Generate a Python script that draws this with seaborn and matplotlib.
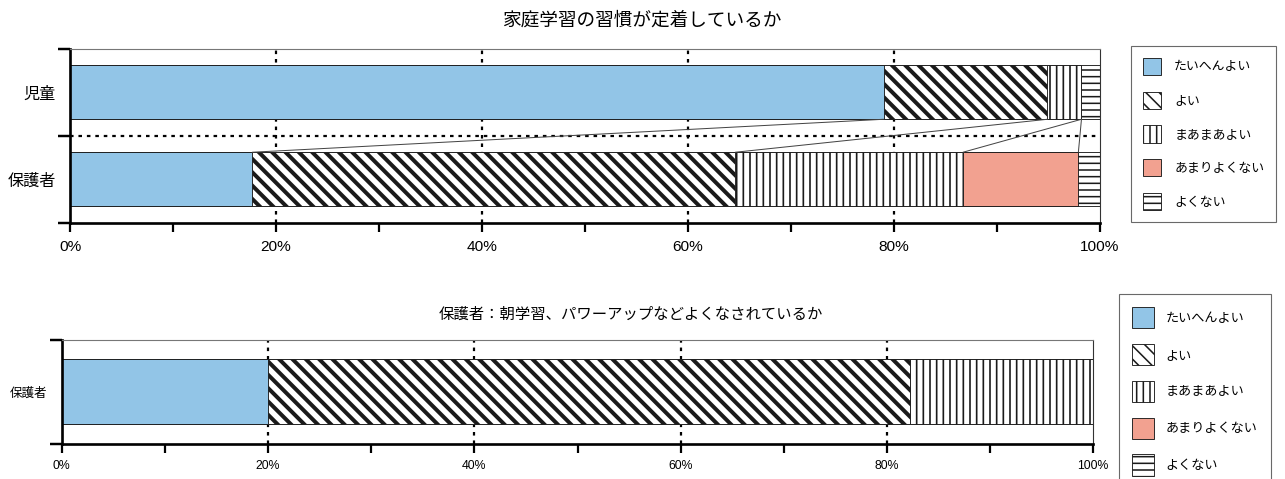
import numpy as np
import matplotlib
matplotlib.use("Agg")
import matplotlib.pyplot as plt
from matplotlib.patches import Patch
from matplotlib.ticker import FixedLocator
import seaborn as sns

# ---- data -------------------------------------------------------------
levels = ["たいへんよい", "よい", "まあまあよい", "あまりよくない", "よくない"]

top_title = "家庭学習の習慣が定着しているか"
top_groups = ["児童", "保護者"]
top_child = [79.0, 15.9, 3.3, 0.0, 1.8]
top_parent = [17.7, 46.9, 22.1, 11.2, 2.1]

bottom_title = "保護者：朝学習、パワーアップなどよくなされているか"
bottom_groups = ["保護者"]
bottom_parent = [20.0, 62.2, 17.8, 0.0, 0.0]

x_ticks = [0, 20, 40, 60, 80, 100]
x_tick_labels = ["0%", "20%", "40%", "60%", "80%", "100%"]
x_minor_ticks = [10, 30, 50, 70, 90]

# ---- styling ----------------------------------------------------------
sns.set_style("white")
plt.rcParams["font.family"] = ["Noto Sans CJK JP", "DejaVu Sans"]
plt.rcParams["hatch.linewidth"] = 1.4
plt.rcParams["text.color"] = "black"
plt.rcParams["xtick.labelcolor"] = "black"
plt.rcParams["ytick.labelcolor"] = "black"

DPI = 80
W_PX, H_PX = 1285, 479
BLUE = "#92c5e7"
SALMON = "#f2a190"

level_style = {
    "たいへんよい": dict(color=BLUE, hatch=None, hlw=1.0),
    "よい": dict(color="white", hatch="\\\\", hlw=3.6),
    "まあまあよい": dict(color="white", hatch="||", hlw=1.5),
    "あまりよくない": dict(color=SALMON, hatch=None, hlw=1.0),
    "よくない": dict(color="white", hatch="--", hlw=1.4),
}

fig = plt.figure(figsize=(W_PX / DPI, H_PX / DPI), dpi=DPI)
fig.patch.set_facecolor("white")


def px_axes(left, top, right, bottom):
    return fig.add_axes([left / W_PX, 1 - bottom / H_PX,
                         (right - left) / W_PX, (bottom - top) / H_PX])


def stacked_bars(ax, groups, rows, bar_w):
    data = np.array(rows, dtype=float)
    cum = data.cumsum(axis=1)
    # longest cumulative bar first, shorter ones painted over it
    for j in reversed(range(len(levels))):
        st = level_style[levels[j]]
        n_before = len(ax.patches)
        sns.barplot(x=cum[:, j], y=groups, orient="h", width=bar_w,
                    color=st["color"], saturation=1, errorbar=None,
                    edgecolor="#1a1a1a", linewidth=0.8,
                    hatch=st["hatch"], ax=ax, zorder=2)
        for p in ax.patches[n_before:]:
            if hasattr(p, "set_hatch_linewidth"):
                p.set_hatch_linewidth(st["hlw"])
    return cum


def style_axes(ax, n_groups, ylab_size, xtick_size, tick_pad):
    ax.set_xlim(0, 100)
    ax.set_ylim(n_groups - 0.5, -0.5)
    ax.set_xlabel("")
    ax.set_ylabel("")
    for x in x_ticks[1:-1]:
        ax.axvline(x, color="black", lw=2.0, ls=(0, (1.6, 2.2)), zorder=0)
    ax.xaxis.set_major_locator(FixedLocator(x_ticks))
    ax.xaxis.set_minor_locator(FixedLocator(x_minor_ticks))
    ax.set_xticklabels(x_tick_labels, family=["Liberation Sans", "DejaVu Sans"],
                       fontsize=xtick_size)
    ax.tick_params(axis="x", which="both", direction="out", length=8,
                   width=2.0, color="black", pad=tick_pad, bottom=True)
    ax.yaxis.set_minor_locator(FixedLocator(np.arange(n_groups + 1) - 0.5))
    ax.tick_params(axis="y", which="major", length=0, pad=13,
                   labelsize=ylab_size)
    ax.tick_params(axis="y", which="minor", direction="out", length=11,
                   width=2.2, color="black", left=True)
    for side in ["left", "bottom"]:
        ax.spines[side].set_visible(True)
        ax.spines[side].set_color("black")
        ax.spines[side].set_linewidth(2.4)
    ax.spines["top"].set_color("#777777")
    ax.spines["top"].set_linewidth(1.0)
    ax.spines["right"].set_color("#333333")
    ax.spines["right"].set_linewidth(1.0)
    ax.set_facecolor("white")


def add_legend(anchor_left, anchor_top, fontsize, borderpad, labelspacing,
               handlelength, handleheight, handletextpad):
    handles = [Patch(facecolor=level_style[l]["color"], edgecolor="#1a1a1a",
                     hatch=level_style[l]["hatch"], linewidth=0.8)
               for l in levels]
    for h, l in zip(handles, levels):
        if hasattr(h, "set_hatch_linewidth"):
            h.set_hatch_linewidth(level_style[l]["hlw"])
    leg = fig.legend(handles, levels, loc="upper left",
                     bbox_to_anchor=(anchor_left / W_PX, 1 - anchor_top / H_PX),
                     borderaxespad=0, frameon=True, fancybox=False,
                     edgecolor="#444444", fontsize=fontsize,
                     handlelength=handlelength, handleheight=handleheight,
                     handletextpad=handletextpad,
                     borderpad=borderpad, labelspacing=labelspacing)
    leg.get_frame().set_linewidth(1.0)
    return leg


# ---- top chart --------------------------------------------------------
BAR_W_TOP = 0.62
ax1 = px_axes(70, 49, 1100, 222.5)
cum = stacked_bars(ax1, top_groups, [top_child, top_parent], BAR_W_TOP)
style_axes(ax1, len(top_groups), ylab_size=14.5, xtick_size=13.8, tick_pad=7.5)
ax1.axhline(0.5, color="black", lw=2.0, ls=(0, (1.6, 2.2)), zorder=0)
# connector lines between the segment ends of the two bars
for j in range(len(levels) - 1):
    ax1.plot([cum[0, j], cum[1, j]], [0 + BAR_W_TOP / 2, 1 - BAR_W_TOP / 2],
             color="#444444", lw=0.9, zorder=3)
fig.text(642 / W_PX, 1 - 20 / H_PX, top_title, ha="center", va="center",
         fontsize=16.8)
add_legend(1131, 46, fontsize=11.6, borderpad=0.9, labelspacing=1.3,
           handlelength=1.45, handleheight=1.67, handletextpad=1.0)

# ---- bottom chart -----------------------------------------------------
ax2 = px_axes(61.7, 340, 1093.3, 443.5)
stacked_bars(ax2, bottom_groups, [bottom_parent], 0.63)
style_axes(ax2, len(bottom_groups), ylab_size=11.3, xtick_size=11.0,
           tick_pad=7)
fig.text(631 / W_PX, 1 - 314 / H_PX, bottom_title, ha="center", va="center",
         fontsize=13.8)
add_legend(1119, 294, fontsize=11.8, borderpad=1.0, labelspacing=1.2,
           handlelength=1.67, handleheight=2.1, handletextpad=0.9)

fig.savefig("out.png", dpi=DPI, facecolor="white")
